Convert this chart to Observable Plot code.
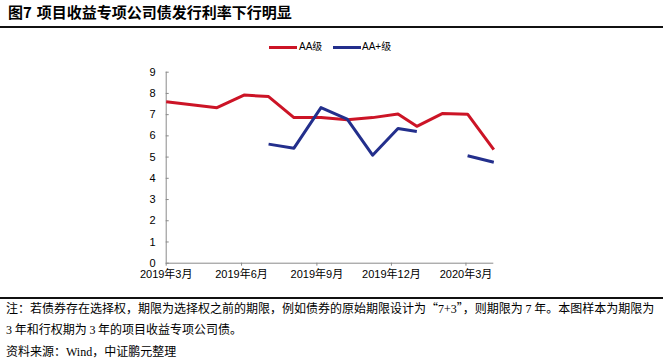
<!DOCTYPE html>
<html><head><meta charset="utf-8">
<script src="https://cdn.jsdelivr.net/npm/d3@7"></script>
<script src="https://cdn.jsdelivr.net/npm/@observablehq/plot@0.6"></script>
<style>
body{margin:0;background:#fff;}
#wrap{position:relative;width:663px;height:363px;overflow:hidden;background:#fff;font-family:"Noto Sans CJK SC","Liberation Sans",sans-serif;color:#000;}
.title{position:absolute;left:8px;top:4px;font-size:15px;font-weight:bold;line-height:15px;white-space:nowrap;}
.rule{position:absolute;left:0;width:663px;height:2px;background:#111;}
.sw{position:absolute;height:3px;width:28px;}
.lt{position:absolute;font-size:10px;line-height:12px;white-space:nowrap;font-family:"Liberation Sans","Noto Sans CJK SC",sans-serif;}
.note{position:absolute;left:6px;font-size:12px;line-height:14px;white-space:nowrap;}
.num{font-family:"Liberation Serif",serif;}
#chart{position:absolute;left:0;top:60px;}
</style></head>
<body><div id="wrap">
<div class="title">图7<span style="margin-left:5px">项目收益专项公司债发行利率下行明显</span></div>
<div class="rule" style="top:25.5px"></div>
<div id="legend"></div>
<div id="chart"></div>
<div class="rule" style="top:297px"></div>
<div class="note" style="top:301px">注：若债券存在选择权，期限为选择权之前的期限，例如债券的原始期限设计为“<span class="num">7+3</span>”，则期限为 <span class="num">7</span> 年。本图样本为期限为</div>
<div class="note" style="top:321.5px"><span class="num">3</span> 年和行权期为 <span class="num">3</span> 年的项目收益专项公司债。</div>
<div class="note" style="top:343.5px">资料来源：<span class="num">Wind</span>，中证鹏元整理</div>
</div>
<script>
// Data
const dates = ["2019-03-01","2019-05-02","2019-06-04","2019-07-04","2019-08-04","2019-09-06","2019-10-08","2019-11-08","2019-12-09","2020-01-01","2020-02-01","2020-03-03","2020-04-04"];
const aa     = [7.61, 7.33, 7.92, 7.85, 6.86, 6.87, 6.76, 6.86, 7.03, 6.45, 7.05, 7.02, 5.35];
const aaPlus = [null, null, null, 5.61, 5.42, 7.33, 6.79, 5.09, 6.35, 6.21, null, 5.06, 4.76];
const seriesNames = ["AA级", "AA+级"];
const seriesColors = ["#CC1426", "#232F8C"];
const xTickDates = ["2019-03-01","2019-06-01","2019-09-01","2019-12-01","2020-03-01"];
const xTickLabels = ["2019年3月","2019年6月","2019年9月","2019年12月","2020年3月"];
const yTicks = [0,1,2,3,4,5,6,7,8,9];

const parse = d3.utcParse("%Y-%m-%d");
const rowsAA = dates.map((d,i)=>({date: parse(d), v: aa[i]})).filter(r=>r.v!=null);
const rowsAAP = dates.map((d,i)=>({date: parse(d), v: aaPlus[i]})).filter((r,i)=>i>=3);
const tickDates = xTickDates.map(parse);
const labelOf = new Map(tickDates.map((d,i)=>[+d, xTickLabels[i]]));
const x0 = parse(dates[0]), x1 = parse(dates[dates.length-1]);

const axisColor = "#8a8a8a";
const chart = Plot.plot({
  width: 663, height: 225,
  marginLeft: 165.7, marginRight: 169.7, marginTop: 11.7, marginBottom: 22.3,
  style: {fontFamily: "'Liberation Sans','Noto Sans CJK SC',sans-serif", fontSize: "11px", color: "#000", background: "transparent"},
  x: {type: "utc", domain: [x0, x1]},
  y: {domain: [0, 9]},
  marks: [
    Plot.ruleX([x0], {stroke: axisColor, strokeWidth: 1}),
    Plot.ruleY([0], {stroke: axisColor, strokeWidth: 1}),
    Plot.axisY({ticks: yTicks, tickSize: -3, tickPadding: 13.7, stroke: axisColor, label: null, tickFormat: d=>String(d)}),
    Plot.axisX({ticks: tickDates, tickSize: 3, tickPadding: 4, stroke: axisColor, label: null, tickFormat: d=>labelOf.get(+d)}),
    Plot.lineY(rowsAA, {x: "date", y: "v", stroke: seriesColors[0], strokeWidth: 3, strokeLinejoin: "round", strokeLinecap: "butt"}),
    Plot.lineY(rowsAAP, {x: "date", y: "v", stroke: seriesColors[1], strokeWidth: 3, strokeLinejoin: "round", strokeLinecap: "butt"})
  ]
});
document.getElementById("chart").appendChild(chart);

// legend
const lg = document.getElementById("legend");
const swX = [269, 333], txX = [299, 362];
seriesNames.forEach((n,i)=>{
  const s = document.createElement("div"); s.className="sw";
  s.style.left = swX[i]+"px"; s.style.top = "45.5px"; s.style.background = seriesColors[i];
  lg.appendChild(s);
  const t = document.createElement("div"); t.className="lt";
  t.style.left = txX[i]+"px"; t.style.top = "41px"; t.textContent = n;
  lg.appendChild(t);
});
</script>
</body></html>
